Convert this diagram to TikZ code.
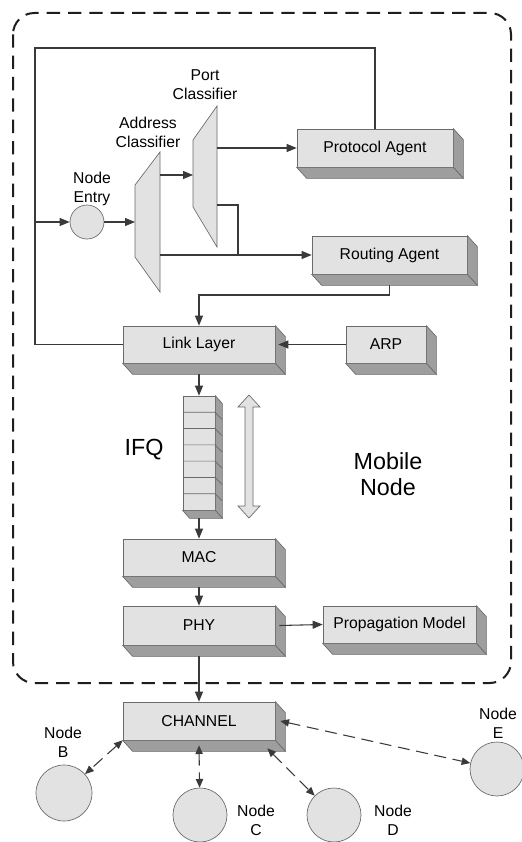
\documentclass[tikz,border=0pt]{standalone}
\usepackage{fontspec}
\setmainfont{Liberation Sans}
\usetikzlibrary{arrows.meta,fit,calc}
\definecolor{facec}{HTML}{E2E2E2}
\definecolor{sidec}{HTML}{9E9E9E}
\definecolor{edgec}{HTML}{6A6A6A}
\definecolor{linec}{HTML}{3A3A3A}
\definecolor{framec}{HTML}{1E1E1E}
\newcommand\tdbox[6]{%
  \node[tdfront, fit={(#2,#3) (#4,#5)}] (#1) {};
  \filldraw[tdside] (#1.north east) -- ++(10,11) -- ([shift={(10,11)}]#1.south east) -- (#1.south east) -- cycle;
  \filldraw[tdside] (#1.south west) -- ++(10,11) -- ([shift={(10,11)}]#1.south east) -- (#1.south east) -- cycle;
  \node[inner sep=0pt] (#1-t) at (#1.center) {#6};}
\begin{document}
\begin{tikzpicture}[x=0.75pt,y=-0.75pt,
  font=\fontsize{11.8}{14.2}\selectfont,
  ln/.style={draw=linec, line width=0.8pt},
  arr/.style={ln, -{Triangle[length=7.5pt,width=6pt]}},
  darr/.style={ln, dash pattern=on 9pt off 5pt, {Triangle[length=6.5pt,width=5.5pt]}-{Triangle[length=6.5pt,width=5.5pt]}},
  tdfront/.style={draw=edgec, fill=facec, inner sep=0pt, line width=0.5pt},
  tdside/.style={draw=edgec, fill=sidec, line width=0.5pt},
  shapec/.style={draw=edgec, fill=facec, line width=0.5pt},
  circ/.style={circle, draw=edgec, fill=facec, line width=0.5pt, inner sep=0pt},
  lbl/.style={align=center, inner sep=0pt},
  big/.style={font=\fontsize{17.5}{19.5}\selectfont}
]
\useasboundingbox[fill=white] (0,0) rectangle (521,842);

% mobile node frame
\draw[framec, line width=1.5pt, dash pattern=on 10pt off 6pt, rounded corners=16pt] (13,13) rectangle (511,683);

% 3D boxes
\tdbox{proto}{297}{129}{453}{167}{Protocol Agent}
\tdbox{route}{312}{236}{467}{274}{Routing Agent}
\tdbox{link}{123}{326}{275}{363}{Link Layer}
\tdbox{arp}{346}{326}{426}{363}{ARP}
\tdbox{mac}{123}{539}{275}{576}{MAC}
\tdbox{phy}{123}{606}{275}{645}{PHY}
\tdbox{prop}{323}{606}{476}{643}{Propagation Model}
\tdbox{chan}{123}{702}{275}{740}{CHANNEL}

% IFQ stack
\node[tdfront, fit={(183,396) (215,510)}] (ifq) {};
\filldraw[tdside] (ifq.north east) -- ++(7,8) -- ([shift={(7,8)}]ifq.south east) -- (ifq.south east) -- cycle;
\filldraw[tdside] (ifq.south west) -- ++(7,8) -- ([shift={(7,8)}]ifq.south east) -- (ifq.south east) -- cycle;
\foreach \i in {1,...,6}
  \draw[edgec, line width=0.5pt] (183,{396+\i*114/7}) -- ++(32,0) -- ++(7,7);

% double arrow
\filldraw[shapec] (249,395) -- (260,407) -- (253,407) -- (253,506) -- (260,506) -- (249,518)
  -- (238,506) -- (245,506) -- (245,407) -- (238,407) -- cycle;

% classifiers
\filldraw[shapec] (160,152) -- (135,185) -- (135,257) -- (160,292) -- cycle;
\filldraw[shapec] (217,106) -- (193,140) -- (193,207) -- (217,247) -- cycle;
\coordinate (acin) at (135,222);
\coordinate (acout1) at (160,175);
\coordinate (acout2) at (160,255);
\coordinate (pcin) at (193,175);
\coordinate (pcout1) at (217,148);
\coordinate (pcout2) at (217,205);
\coordinate (join) at (238,255);
\coordinate (tl) at (35,48);
\coordinate (fb) at (35,222);
\coordinate (rl) at (199,295);

% node entry
\node[circ, minimum size=25.5pt] (entry) at (87,222) {};

% circles
\node[circ, minimum size=42pt] (nb) at (64,793) {};
\node[circ, minimum size=40.5pt] (nc) at (200,815) {};
\node[circ, minimum size=40.5pt] (nd) at (334,815) {};
\node[circ, minimum size=40.5pt] (ne) at (497,769) {};

% labels
\node[lbl] (lport) at (205,85) {Port\\Classifier};
\node[lbl] (laddr) at (148,132) {Address\\Classifier};
\node[lbl] (lentry) at (92,189) {Node\\Entry};
\node[lbl] (lb) at (63,742) {Node\\B};
\node[lbl] (lc) at (256,820) {Node\\C};
\node[lbl] (ld) at (393,820) {Node\\D};
\node[lbl] (le) at (498,723) {Node\\E};
\node[lbl, big] (lifq) at (144,450) {IFQ};
\node[lbl, big] (lmob) at (388,474) {Mobile\\Node};

% connectors
\draw[ln] (proto.north) |- (tl) -- (tl |- link.west) -- (link.west);
\draw[arr] (fb) -- (entry.west);
\draw[arr] (entry.east) -- (acin);
\draw[arr] (acout1) -- (pcin);
\draw[arr] (pcout1) -- (proto.west);
\draw[arr] (acout2) -- (route.west);
\draw[ln] (pcout2) -| (join);
\draw[arr] ([shift={(0,11)}]route.south) |- (rl) -- (link.north);
\draw[arr] (arp.west) -- ([shift={(3,0)}]link.east);
\draw[arr] ([shift={(0,11)}]link.south) -- (ifq.north);
\draw[arr] ([shift={(0,8)}]ifq.south) -- (mac.north);
\draw[arr] ([shift={(0,11)}]mac.south) -- (phy.north);
\draw[arr] ([shift={(4,0)}]phy.east) -- (prop.west);
\draw[arr] ([shift={(0,11)}]phy.south) -- (chan.north);

\draw[darr] (chan.south west) -- (nb);
\draw[darr] ([shift={(0,5)}]chan.south) -- (nc);
\draw[darr] ([shift={(-8,8)}]chan.south east) -- (nd);
\draw[darr] ([shift={(5,0)}]chan.east) -- (ne);
\end{tikzpicture}
\end{document}
